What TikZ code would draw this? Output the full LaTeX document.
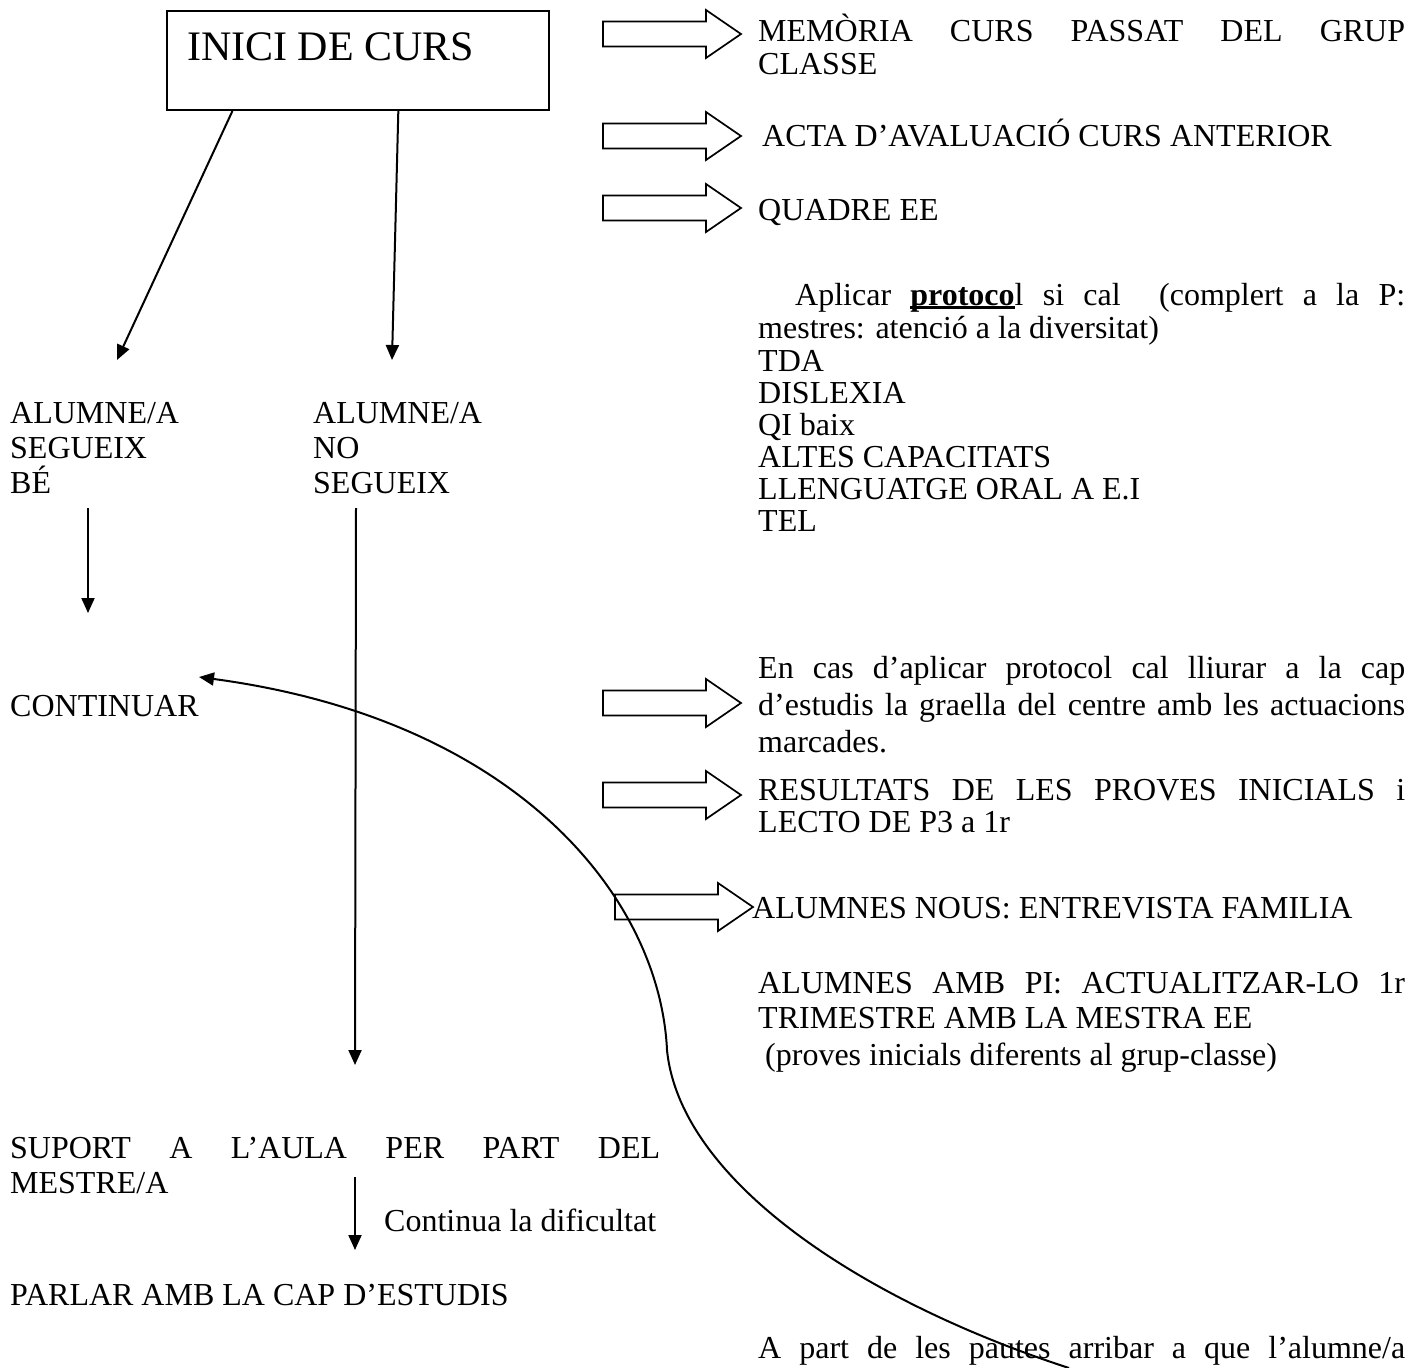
\documentclass[tikz,border=0pt]{standalone}
\usepackage{fontspec}
\setmainfont{Liberation Serif}
\usetikzlibrary{calc}
\usetikzlibrary{arrows.meta}
\newcommand{\harrbody}{103}
\newcommand{\harrhead}{35}
\newcommand{\harrbodyh}{12.5}
\newcommand{\harrheadh}{24}
\newcommand{\colw}{647}
\newcommand{\hollowarrow}[2]{
  \draw[harrow] (#1,#2-\harrbodyh) -- (#1+\harrbody,#2-\harrbodyh)
    -- (#1+\harrbody,#2-\harrheadh) -- (#1+\harrbody+\harrhead,#2)
    -- (#1+\harrbody,#2+\harrheadh) -- (#1+\harrbody,#2+\harrbodyh)
    -- (#1,#2+\harrbodyh) -- cycle;
}
\newcommand{\jline}[2]{\makebox[#1pt][s]{#2}}
\newcommand{\thickul}[1]{\setbox0\hbox{#1}\rlap{\rule[-4pt]{\wd0}{2.6pt}}\box0}
\tikzset{
  txt/.style={anchor=base west,inner sep=0pt},
  arr/.style={line width=2pt,-{Triangle[length=15pt,width=13pt]}},
  harrow/.style={line width=1.7pt,line join=miter},
  boxline/.style={draw,line width=2pt,inner sep=0pt}
}

\begin{document}
\begin{tikzpicture}[x=1pt,y=-1pt,font=\fontsize{32}{35}\selectfont]
    \useasboundingbox (0,0) rectangle (1422,1368);
    % start box
    \node[boxline,anchor=north west,minimum width=382pt,minimum height=99pt]
      (inicibox) at (166,10) {};
    \node[txt,font=\fontsize{42}{46}\selectfont] (inici) at (187,60) {INICI DE CURS};

    % hollow arrows to the right column
    \hollowarrow{603}{34}
    \hollowarrow{603}{136}
    \hollowarrow{603}{208}
    \hollowarrow{603}{703}
    \hollowarrow{603}{795}
    \hollowarrow{615}{907}

    % right column
    \node[txt] (memoria) at (758,41) {\jline{\colw}{MEMÒRIA CURS PASSAT DEL GRUP}};
    \node[txt] (classe) at (758,74) {CLASSE};
    \node[txt] (acta) at (762,146) {ACTA D’AVALUACIÓ CURS ANTERIOR};
    \node[txt] (quadre) at (758,220) {QUADRE EE};
    \node[txt] (aplicar) at (795,305)
      {\jline{610}{Aplicar \thickul{\textbf{protoco}}l si cal\ \ (complert a la P:}};
    \node[txt] (mestres) at (758,338) {mestres: atenció a la diversitat)};
    \foreach \t [count=\i] in {TDA,DISLEXIA,QI baix,ALTES CAPACITATS,LLENGUATGE ORAL A E.I,TEL}
      \node[txt] (diag\i) at (758,371+32*\i-32) {\t};
    \node[txt] (encas1) at (758,678) {\jline{\colw}{En cas d’aplicar protocol cal lliurar a la cap}};
    \node[txt] (encas2) at (758,715) {\jline{\colw}{d’estudis la graella del centre amb les actuacions}};
    \node[txt] (encas3) at (758,752) {marcades.};
    \node[txt] (result1) at (758,800) {\jline{\colw}{RESULTATS DE LES PROVES INICIALS i}};
    \node[txt] (result2) at (758,832) {LECTO DE P3 a 1r};
    \node[txt] (nous) at (752,918) {ALUMNES NOUS: ENTREVISTA FAMILIA};
    \node[txt] (pi1) at (758,993) {\jline{\colw}{ALUMNES AMB PI: ACTUALITZAR-LO 1r}};
    \node[txt] (pi2) at (758,1028) {TRIMESTRE AMB LA MESTRA EE};
    \node[txt] (pi3) at (765,1065) {(proves inicials diferents al grup-classe)};
    \node[txt] (pautes) at (758,1358) {\jline{\colw}{A part de les pautes arribar a que l’alumne/a}};

    % left column
    \foreach \t [count=\i] in {ALUMNE/A,SEGUEIX,BÉ}
      \node[txt] (segbe\i) at (10,423+35*\i-35) {\t};
    \foreach \t [count=\i] in {ALUMNE/A,NO,SEGUEIX}
      \node[txt] (noseg\i) at (313,423+35*\i-35) {\t};
    \node[txt] (continuar) at (10,716) {CONTINUAR};
    \node[txt] (suport1) at (10,1158) {\jline{650}{SUPORT A L’AULA PER PART DEL}};
    \node[txt] (suport2) at (10,1193) {MESTRE/A};
    \node[txt] (dificultat) at (384,1231) {Continua la dificultat};
    \node[txt] (parlar) at (10,1305) {PARLAR AMB LA CAP D’ESTUDIS};

    % connector ends
    \coordinate (segbeIn) at (117,360);
    \coordinate (nosegIn) at (392,360);
    \coordinate (segbeOut) at (88,508);
    \coordinate (continuarIn) at (88,613);
    \coordinate (nosegOut) at (356,508);
    \coordinate (suportIn) at (355,1065);
    \coordinate (suportOut) at (355,1177);
    \coordinate (parlarIn) at (355,1250);
    \coordinate (corbaIni) at (1069,1368);
    \coordinate (corbaMig) at (667,1050);
    \coordinate (continuarBack) at (199,677);

    \draw[arr] ($(inicibox.south west)!0.173!(inicibox.south east)$) -- (segbeIn);
    \draw[arr] ($(inicibox.south west)!0.605!(inicibox.south east)$) -- (nosegIn);
    \draw[arr] (segbeOut) -- (continuarIn);
    \draw[arr] (nosegOut) -- (suportIn);
    \draw[arr] (suportOut) -- (parlarIn);
    \draw[arr] (corbaIni) .. controls (860,1300) and (680,1180) .. (corbaMig)
      .. controls (660,900) and (520,720) .. (continuarBack);
\end{tikzpicture}
\end{document}
